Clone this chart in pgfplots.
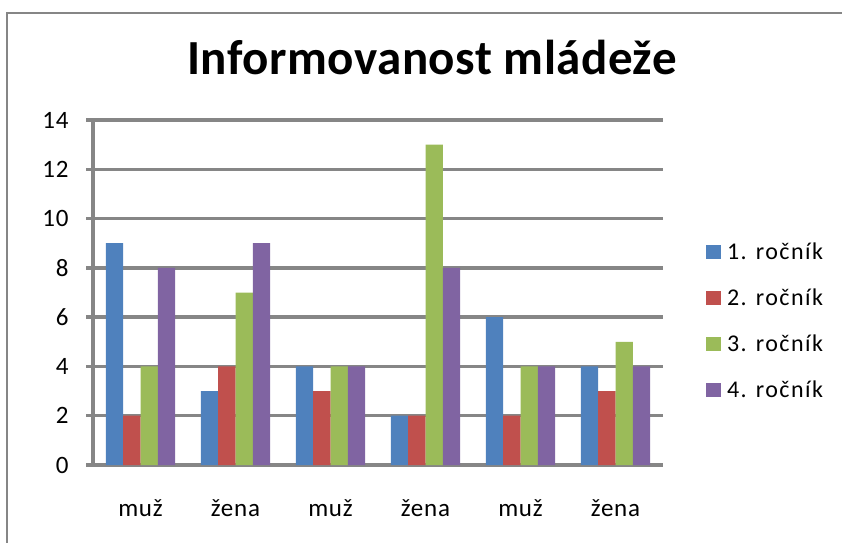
\documentclass[border=0pt]{standalone}
\usepackage{pgfplots}
\pgfplotsset{compat=1.18}
\usepackage{fontspec}
\setmainfont{Carlito}
\definecolor{c1}{HTML}{4F81BD}
\definecolor{c2}{HTML}{C0504D}
\definecolor{c3}{HTML}{9BBB59}
\definecolor{c4}{HTML}{8064A2}
\definecolor{gr}{HTML}{868686}
\begin{document}
\begin{tikzpicture}[x=1pt,y=1pt]
\path[use as bounding box] (0,0) rectangle (842,542);
\draw[gr, line width=2.5pt] (7,-2) -- (7,529) -- (845,529);
\node[anchor=base, font=\fontsize{49}{54}\selectfont\bfseries\addfontfeatures{LetterSpace=1}] at (432,467) {Informovanost mládeže};
\begin{axis}[
  at={(93pt,77pt)}, anchor=south west,
  scale only axis, width=570pt, height=345pt,
  ybar=0pt, bar width=17.3pt,
  xmin=-0.5, xmax=5.5, ymin=0, ymax=14,
  ytick={0,2,...,14},
  xtick={0,...,5},
  xticklabels={muž,žena,muž,žena,muž,žena},
  minor xtick={-0.5,0.5,...,5.5},
  axis x line*=bottom, axis y line*=left,
  axis line style={gr, line width=3.5pt, -},
  tick align=outside,
  major tick length=7pt, minor tick length=10pt,
  xtick style={draw=none},
  ytick style={gr, line width=3.5pt},
  minor x tick style={gr, line width=3.5pt},
  ymajorgrids, grid style={gr, line width=3.5pt},
  /pgf/number format/assume math mode=true,
  tick label style={font=\fontsize{25}{28}\selectfont\addfontfeatures{LetterSpace=3}},
  yticklabel style={xshift=-14pt},
  xticklabel style={yshift=-24pt},
  legend style={at={(1.07,0.417)}, anchor=west, draw=none, fill=none,
    font=\fontsize{24}{28}\selectfont\addfontfeatures{LetterSpace=6}, row sep=24pt,
    legend cell align=left, nodes={inner xsep=6pt}},
  legend image code/.code={\fill[#1] (0pt,-7pt) rectangle (15pt,7pt);},
]
\addplot[fill=c1, draw=none] coordinates {(0,9) (1,3) (2,4) (3,2) (4,6) (5,4)};
\addplot[fill=c2, draw=none] coordinates {(0,2) (1,4) (2,3) (3,2) (4,2) (5,3)};
\addplot[fill=c3, draw=none] coordinates {(0,4) (1,7) (2,4) (3,13) (4,4) (5,5)};
\addplot[fill=c4, draw=none] coordinates {(0,8) (1,9) (2,4) (3,8) (4,4) (5,4)};
\legend{1. ročník,2. ročník,3. ročník,4. ročník}
\end{axis}
\end{tikzpicture}
\end{document}
